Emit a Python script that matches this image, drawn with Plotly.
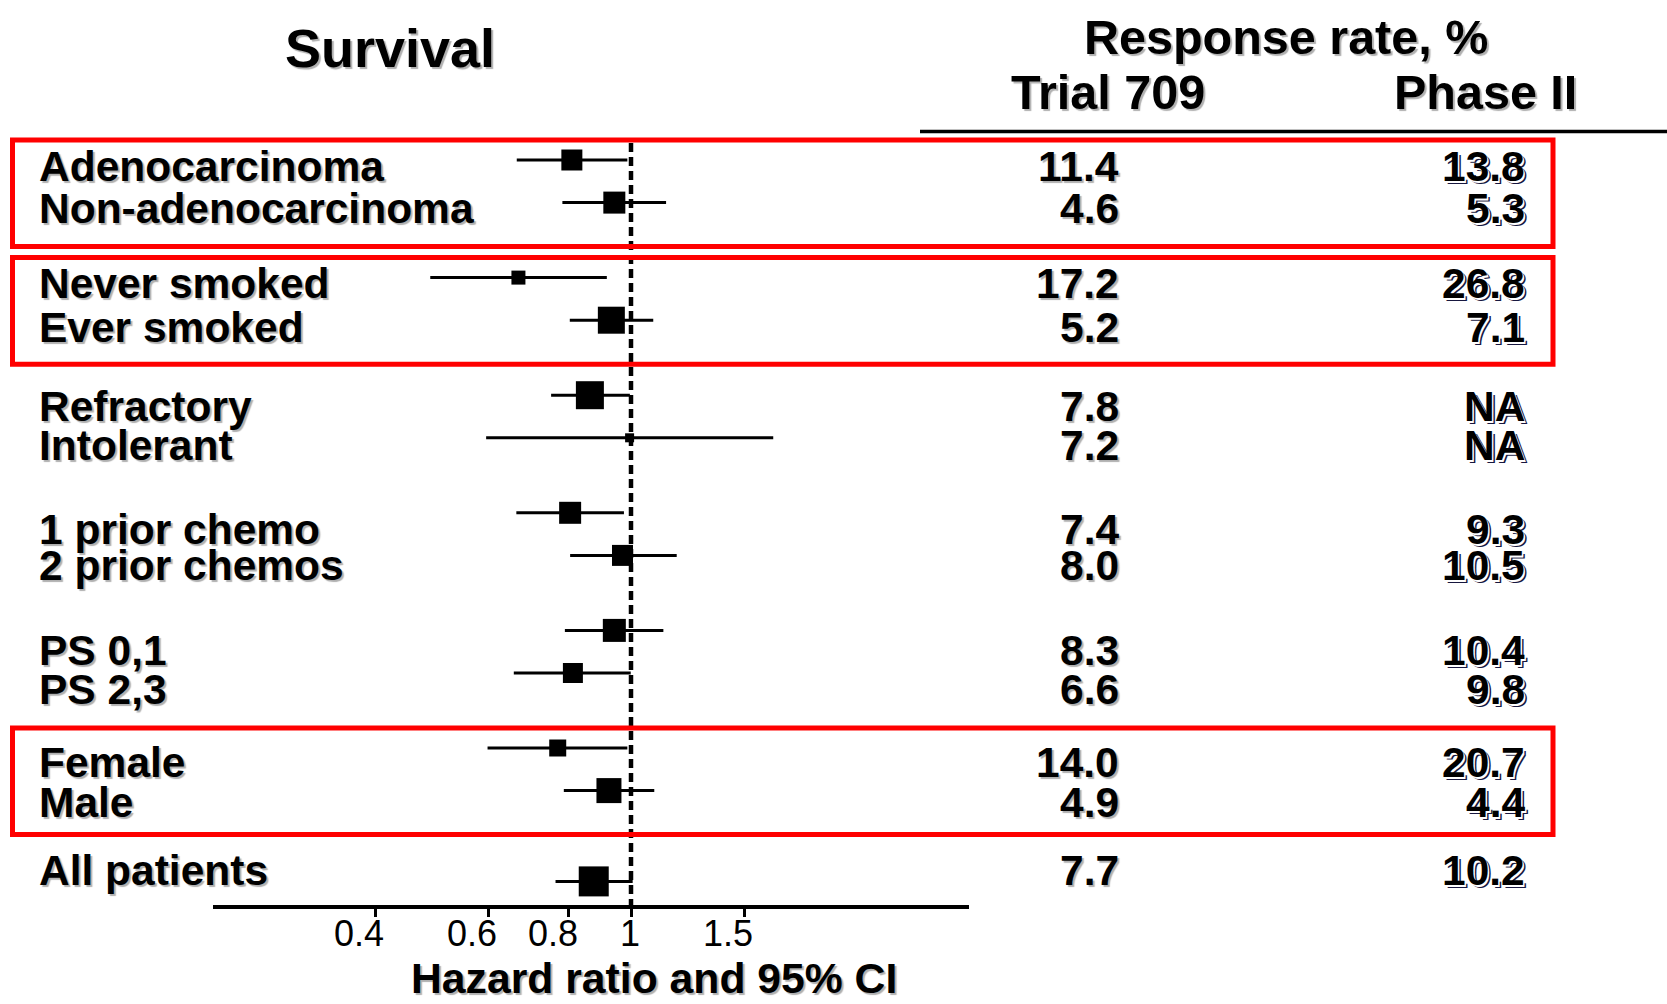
import math
import plotly.graph_objects as go

# ---------------- data ----------------
labels = ["Adenocarcinoma", "Non-adenocarcinoma", "Never smoked", "Ever smoked",
          "Refractory", "Intolerant", "1 prior chemo", "2 prior chemos",
          "PS 0,1", "PS 2,3", "Female", "Male", "All patients"]
hr = [0.809, 0.942, 0.668, 0.932, 0.863, 0.995, 0.804, 0.970, 0.942, 0.812, 0.769, 0.924, 0.875]
ci_low = [0.664, 0.782, 0.487, 0.803, 0.751, 0.595, 0.663, 0.804, 0.789, 0.657, 0.598, 0.786, 0.763]
ci_high = [0.987, 1.134, 0.917, 1.083, 0.996, 1.665, 0.975, 1.178, 1.123, 0.999, 0.987, 1.087, 1.006]
rr_trial709 = ["11.4", "4.6", "17.2", "5.2", "7.8", "7.2", "7.4", "8.0", "8.3", "6.6", "14.0", "4.9", "7.7"]
rr_phase2 = ["13.8", "5.3", "26.8", "7.1", "NA", "NA", "9.3", "10.5", "10.4", "9.8", "20.7", "4.4", "10.2"]
highlighted_groups = [0, 1, 5]
tick_values = [0.4, 0.6, 0.8, 1, 1.5]
tick_labels = ["0.4", "0.6", "0.8", "1", "1.5"]

# ---------------- layout / style constants ----------------
W, H = 1667, 1004
AXIS_Y = 907            # pixel row of the x axis line
AXIS_LW = 4
X_LEFT, X_RIGHT = 212.8, 968.9
X_ONE, PX_PER_LN = 631.0, 279.0
ROW0, PAIR, GROUP, LAST_GAP = 160.0, 42.6, 117.6, 90.8
TEXT_ROW_PX = [166.7, 208.3, 284.0, 327.5, 406.7, 445.5, 529.7, 565.0,
               650.8, 689.0, 762.5, 802.5, 870.8]
box_px = [21, 22, 14, 27, 28, 9, 22, 21, 23, 20, 17, 25, 30]

FONT = "Liberation Sans, Arial, sans-serif"
SHADOW = "2px 2px 1px #b0b0b0"
SHADOW_P2 = "1.5px 1.5px 0px #ffffff, 3px 3px 0px #17173f"


def px(x):
    return x / W


def py(y):
    return 1 - y / H


marker_y = []
for i in range(12):
    marker_y.append(ROW0 + (i // 2) * GROUP + (i % 2) * PAIR)
marker_y.append(marker_y[-1] + LAST_GAP)

x_lo = math.exp((X_LEFT - X_ONE) / PX_PER_LN)
x_hi = math.exp((X_RIGHT - X_ONE) / PX_PER_LN)
plot_bottom = AXIS_Y - AXIS_LW / 2

fig = go.Figure()
fig.add_trace(go.Scatter(
    x=hr, y=marker_y, mode="markers",
    marker=dict(symbol="square", size=box_px, color="black", opacity=1,
                line=dict(width=0)),
    error_x=dict(type="data", symmetric=False,
                 array=[h - m for h, m in zip(ci_high, hr)],
                 arrayminus=[m - l for m, l in zip(hr, ci_low)],
                 thickness=3, width=0, color="black"),
    cliponaxis=False, hoverinfo="skip", showlegend=False,
))

shapes = []
# reference line at HR = 1
shapes.append(dict(type="line", xref="x", yref="y", x0=1, x1=1,
                   y0=marker_y[0] - 17, y1=plot_bottom + 6,
                   line=dict(color="black", width=4.5, dash="9px,5px")))
# header underline
shapes.append(dict(type="line", xref="paper", yref="paper",
                   x0=px(920), x1=1.0, y0=py(131.5), y1=py(131.5),
                   line=dict(color="black", width=3.5)))
# red highlight boxes
for g in highlighted_groups:
    top = marker_y[2 * g] - 20
    bot = marker_y[2 * g + 1] + 44
    shapes.append(dict(type="rect", xref="paper", yref="paper",
                       x0=px(12.5), x1=px(1553), y0=py(top), y1=py(bot),
                       line=dict(color="#ff0000", width=5), fillcolor="rgba(0,0,0,0)"))

ann = []


def text(t, x, y, size, anchor="center", shadow=SHADOW, bold=True):
    ann.append(dict(text=t, x=px(x), y=py(y), xref="paper", yref="paper",
                    xanchor=anchor, yanchor="middle", showarrow=False,
                    font=dict(family=FONT, size=size, color="black",
                              weight="bold" if bold else "normal", shadow=shadow)))


text("Survival", 390, 48, 54)
text("Response rate, %", 1286, 37.5, 48.5)
text("Trial 709", 1108, 92, 48.5)
text("Phase II", 1485, 92, 48.5)

for i, lab in enumerate(labels):
    yy = TEXT_ROW_PX[i]
    text(lab, 37, yy, 42.5, anchor="left")
    text(rr_trial709[i], 1121, yy, 42.5, anchor="right")
    text(rr_phase2[i], 1527, yy, 42.5, anchor="right", shadow=SHADOW_P2)

text("Hazard ratio and 95% CI", 654, 978, 42.7)

# tick labels: right-aligned just past each tick, placed through the x scale
for v, t in zip(tick_values, tick_labels):
    ann.append(dict(text=t, x=math.log10(v), xref="x", y=py(933.7), yref="paper",
                    xanchor="right", xshift=11, yanchor="middle", showarrow=False,
                    font=dict(family=FONT, size=36, color="black")))

fig.update_layout(
    width=W, height=H, autosize=False,
    margin=dict(l=0, r=0, t=0, b=0, pad=0),
    paper_bgcolor="white", plot_bgcolor="white",
    shapes=shapes, annotations=ann, showlegend=False,
    xaxis=dict(type="log", domain=[px(X_LEFT), px(X_RIGHT)],
               range=[math.log10(x_lo), math.log10(x_hi)],
               tickvals=tick_values, showticklabels=False,
               showline=True, linecolor="black", linewidth=AXIS_LW,
               ticks="outside", ticklen=8, tickwidth=3, tickcolor="black",
               showgrid=False, zeroline=False),
    yaxis=dict(domain=[1 - plot_bottom / H, 1], range=[plot_bottom, 0],
               visible=False, showgrid=False, zeroline=False),
)

fig.write_html("out.html")
